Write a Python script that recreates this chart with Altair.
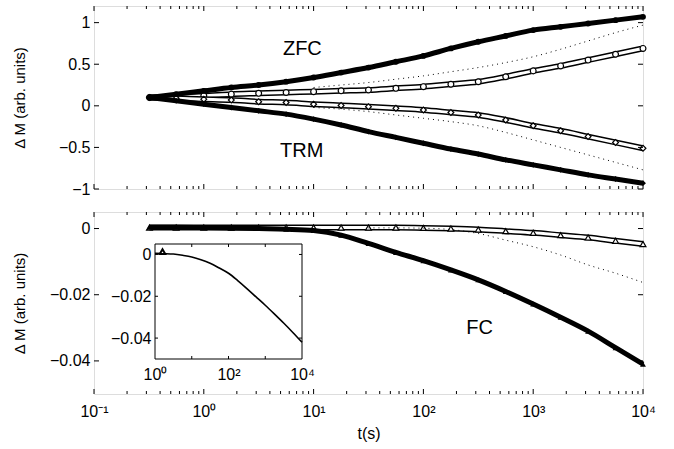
import altair as alt
import pandas as pd

# ---------------- data ----------------
t = [0.32, 0.56, 1.0, 1.78, 3.16, 5.62, 10.0, 17.8, 31.6, 56.2, 100, 178, 316, 562,
     1000, 1778, 3162, 5623, 10000]
zfc = [0.10, 0.14, 0.18, 0.22, 0.25, 0.29, 0.34, 0.40, 0.46, 0.53, 0.60, 0.69, 0.77,
       0.84, 0.91, 0.95, 0.99, 1.03, 1.07]
open_circ = [0.10, 0.11, 0.12, 0.14, 0.15, 0.16, 0.17, 0.18, 0.19, 0.21, 0.23, 0.26,
             0.29, 0.35, 0.42, 0.48, 0.55, 0.62, 0.69]
open_diam = [0.10, 0.09, 0.08, 0.07, 0.05, 0.04, 0.02, 0.005, -0.01, -0.03, -0.05,
             -0.08, -0.11, -0.17, -0.24, -0.30, -0.37, -0.44, -0.51]
trm = [0.10, 0.06, 0.02, -0.02, -0.06, -0.10, -0.16, -0.23, -0.31, -0.38, -0.45,
       -0.52, -0.58, -0.65, -0.71, -0.77, -0.83, -0.88, -0.93]

t_dot = [10.0, 17.8, 31.6, 56.2, 100, 178, 316, 562, 1000, 1778, 3162, 5623, 10000]
dot_up = [0.22, 0.25, 0.28, 0.32, 0.36, 0.41, 0.46, 0.52, 0.59, 0.68, 0.78, 0.88, 0.97]
dot_dn = [-0.02, -0.04, -0.07, -0.11, -0.15, -0.19, -0.24, -0.32, -0.41, -0.50, -0.59,
          -0.68, -0.77]

tri_open = [0.0003, 0.0003, 0.0003, 0.0003, 0.0003, 0.0003, 0.0003, 0.0003, 0.0003,
            0.0003, 0.0002, 0.0, -0.0003, -0.0008, -0.0013, -0.002, -0.0027, -0.0037,
            -0.0047]
fc = [0.0004, 0.0004, 0.0003, 0.0002, 0.0, -0.0002, -0.0006, -0.002, -0.0045, -0.0072,
      -0.0097, -0.0125, -0.0155, -0.019, -0.0228, -0.0268, -0.031, -0.036, -0.041]
t_dot2 = [31.6, 56.2, 100, 178, 316, 562, 1000, 1778, 3162, 5623, 10000]
dot_fc = [0.0002, 0.0002, 0.0001, -0.0003, -0.0015, -0.0035, -0.0055, -0.008, -0.011,
          -0.0135, -0.0163]

t_inset = [1.0, 1.78, 3.16, 5.62, 10.0, 17.8, 31.6, 56.2, 100, 178, 316, 562, 1000,
           1778, 3162, 5623, 10000]
inset_vals = [0.0005, 0.0004, 0.0002, -0.0004, -0.0012, -0.0025, -0.0042, -0.0065,
              -0.009, -0.0125, -0.0163, -0.0203, -0.0243, -0.0285, -0.0328, -0.0373,
              -0.042]
inset_mark_t = [1.6]
inset_mark_v = [0.0013]

x_major = [0.1, 1, 10, 100, 1000, 10000]
x_major_labels = ['10⁻¹', '10⁰', '10¹', '10²', '10³', '10⁴']
minor_mult = [2, 3, 4, 5, 6, 7, 8, 9]
x_minor = [m * d for d in [0.1, 1, 10, 100, 1000] for m in minor_mult]
y_top_ticks = [-1, -0.5, 0, 0.5, 1]
y_bot_ticks = [-0.04, -0.02, 0]
inset_x_ticks = [1, 100, 10000]
inset_x_labels = ['10⁰', '10²', '10⁴']
inset_x_minor = [10, 100, 1000]

labels_top = pd.DataFrame({'t': [7.9, 7.8], 'v': [0.68, -0.545], 'txt': ['ZFC', 'TRM']})
labels_bot = pd.DataFrame({'t': [325], 'v': [-0.0302], 'txt': ['FC']})

# ---------------- layout ----------------
W, H1, H2 = 549, 183, 182
FONT = 'Liberation Sans'
TL = 5   # major tick length
TM = 3   # minor tick length
IX0, IX1, IY0, IY1 = 61, 208, 32, 147   # inset box in the lower panel
INTERP = 'monotone'

xscale = alt.Scale(type='log', domain=[0.1, 10000], nice=False)
ytop = alt.Scale(domain=[-1, 1.2], nice=False, zero=False)
ybot = alt.Scale(domain=[-0.05, 0.005], nice=False, zero=False)
xin = alt.Scale(type='log', domain=[1, 10000], nice=False, range=[IX0, IX1])
yin = alt.Scale(domain=[-0.05, 0.005], nice=False, zero=False, range=[IY1, IY0])

lbl_expr = '[' + ','.join("'%s'" % s for s in x_major_labels) + '][round(log(datum.value)/LN10)+1]'
x_axis_bot = alt.Axis(values=x_major, labelExpr=lbl_expr, title='t(s)', tickSize=0,
                      domain=False, grid=False, labelPadding=9, titlePadding=6,
                      labelFontSize=16, titleFontSize=16, labelFont=FONT, titleFont=FONT,
                      titleFontWeight='normal', labelColor='black', titleColor='black',
                      labelFlush=False)

def yaxis(values, fmt, H):
    return alt.Axis(values=values, format=fmt, title='Δ M (arb. units)', tickSize=0,
                    domain=False, grid=False, labelPadding=4, labelFontSize=16,
                    titleFontSize=15, labelFont=FONT, titleFont=FONT,
                    titleFontWeight='normal', labelColor='black', titleColor='black',
                    titleX=-67, titleY=H / 2, titleAngle=-90, titleAlign='center',
                    labelFlush=False)

def panel_layers(xenc, yenc_factory, H, series, dots, texts, ymajor):
    layers = []
    for (tt, vv, kind, shape) in series:
        df = pd.DataFrame({'t': tt, 'v': vv})
        base = alt.Chart(df).encode(x=xenc('t'), y=yenc_factory('v'))
        if kind == 'filled':
            layers.append(base.mark_line(color='black', strokeWidth=5, interpolate=INTERP))
            layers.append(base.mark_point(shape=shape, filled=True, color='black',
                                          size=34, opacity=1))
        else:
            layers.append(base.mark_line(color='black', strokeWidth=6, interpolate=INTERP))
            layers.append(base.mark_line(color='white', strokeWidth=3, interpolate=INTERP))
            layers.append(base.mark_point(shape=shape, filled=True, fill='white',
                                          stroke='black', strokeWidth=1.2, size=34,
                                          opacity=1))
    for (tt, vv) in dots:
        df = pd.DataFrame({'t': tt, 'v': vv})
        layers.append(alt.Chart(df).mark_line(color='black', strokeWidth=1,
                                              strokeDash=[1, 4], interpolate=INTERP)
                      .encode(x=xenc('t'), y=yenc_factory('v')))
    layers.append(alt.Chart(texts).mark_text(font=FONT, fontSize=20, color='black',
                                             align='center', baseline='middle')
                  .encode(x=xenc('t'), y=yenc_factory('v'), text='txt:N'))
    # inward ticks
    for vals, L in [(x_major, TL), (x_minor, TM)]:
        df = pd.DataFrame({'t': vals})
        layers.append(alt.Chart(df).mark_rule(color='black', strokeWidth=1)
                      .encode(x=xenc('t'), y=alt.value(H), y2=alt.value(H - L)))
        layers.append(alt.Chart(df).mark_rule(color='black', strokeWidth=1)
                      .encode(x=xenc('t'), y=alt.value(0), y2=alt.value(L)))
    df = pd.DataFrame({'v': ymajor})
    layers.append(alt.Chart(df).mark_rule(color='black', strokeWidth=1)
                  .encode(y=yenc_factory('v'), x=alt.value(0), x2=alt.value(TL)))
    layers.append(alt.Chart(df).mark_rule(color='black', strokeWidth=1)
                  .encode(y=yenc_factory('v'), x=alt.value(W - TL), x2=alt.value(W)))
    return layers

# ---- top panel
top_x = lambda f: alt.X(f + ':Q', scale=xscale, axis=None)
top_y = lambda f: alt.Y(f + ':Q', scale=ytop, axis=yaxis(y_top_ticks, '.1~f', H1))
top_series = [
    (t, open_circ, 'open', 'circle'),
    (t, open_diam, 'open', 'diamond'),
    (t, zfc, 'filled', 'circle'),
    (t, trm, 'filled', 'diamond'),
]
top = alt.layer(*panel_layers(top_x, top_y, H1, top_series,
                              [(t_dot, dot_up), (t_dot, dot_dn)], labels_top,
                              y_top_ticks)).properties(width=W, height=H1)

# ---- bottom panel
bot_x = lambda f: alt.X(f + ':Q', scale=xscale, axis=x_axis_bot)
bot_y = lambda f: alt.Y(f + ':Q', scale=ybot, axis=yaxis(y_bot_ticks, '.2~f', H2))
bot_series = [
    (t, tri_open, 'open', 'triangle-up'),
    (t, fc, 'filled', 'triangle-up'),
]
bot_main = alt.layer(*panel_layers(bot_x, bot_y, H2, bot_series, [(t_dot2, dot_fc)],
                                   labels_bot, y_bot_ticks))

# ---- inset
in_x_lbl = '[' + ','.join("'%s'" % s for s in inset_x_labels) + '][round(log(datum.value)/LN10/2)]'
in_xaxis = alt.Axis(orient='bottom', offset=-(H2 - IY1), values=inset_x_ticks,
                    labelExpr=in_x_lbl, title=None, tickSize=0, domain=False, grid=False,
                    labelPadding=7, labelFontSize=16, labelFont=FONT, labelColor='black',
                    labelFlush=False, zindex=2)
in_yaxis = alt.Axis(orient='left', offset=-IX0, values=y_bot_ticks, format='.2~f',
                    title=None, tickSize=0, domain=False, grid=False, labelPadding=4,
                    labelFontSize=16, labelFont=FONT, labelColor='black',
                    labelFlush=False, zindex=2)
ix = lambda f: alt.X(f + ':Q', scale=xin, axis=in_xaxis)
iy = lambda f: alt.Y(f + ':Q', scale=yin, axis=in_yaxis)

box = alt.Chart(pd.DataFrame({'a': [1], 'b': [10000], 'c': [0.005], 'd': [-0.05]})) \
    .mark_rect(fill='white', stroke='black', strokeWidth=1) \
    .encode(x=ix('a'), x2='b:Q', y=iy('c'), y2='d:Q')
in_line = alt.Chart(pd.DataFrame({'t': t_inset, 'v': inset_vals})) \
    .mark_line(color='black', strokeWidth=1.6, interpolate=INTERP) \
    .encode(x=ix('t'), y=iy('v'))
in_pts = alt.Chart(pd.DataFrame({'t': inset_mark_t, 'v': inset_mark_v})) \
    .mark_point(shape='triangle-up', filled=True, fill='white', stroke='black',
                size=30, opacity=1).encode(x=ix('t'), y=iy('v'))
itx = pd.DataFrame({'t': inset_x_minor})
ity = pd.DataFrame({'v': y_bot_ticks})
in_ticks = [
    alt.Chart(itx).mark_rule(color='black').encode(x=ix('t'), y=alt.value(IY1), y2=alt.value(IY1 - TM)),
    alt.Chart(itx).mark_rule(color='black').encode(x=ix('t'), y=alt.value(IY0), y2=alt.value(IY0 + TM)),
    alt.Chart(ity).mark_rule(color='black').encode(y=iy('v'), x=alt.value(IX0), x2=alt.value(IX0 + TM)),
    alt.Chart(ity).mark_rule(color='black').encode(y=iy('v'), x=alt.value(IX1 - TM), x2=alt.value(IX1)),
]
inset = alt.layer(box, in_line, in_pts, *in_ticks)

bottom = alt.layer(bot_main, inset).resolve_scale(x='independent', y='independent') \
    .properties(width=W, height=H2)

chart = alt.vconcat(top, bottom, spacing=23, bounds='flush').resolve_scale(
    x='independent', y='independent'
).properties(
    padding={'left': 11, 'top': 5, 'right': 5, 'bottom': 5}
).configure_view(stroke='black', strokeWidth=1).configure(background='white')

chart.save('out.html', embed_options={'renderer': 'svg', 'actions': False})
